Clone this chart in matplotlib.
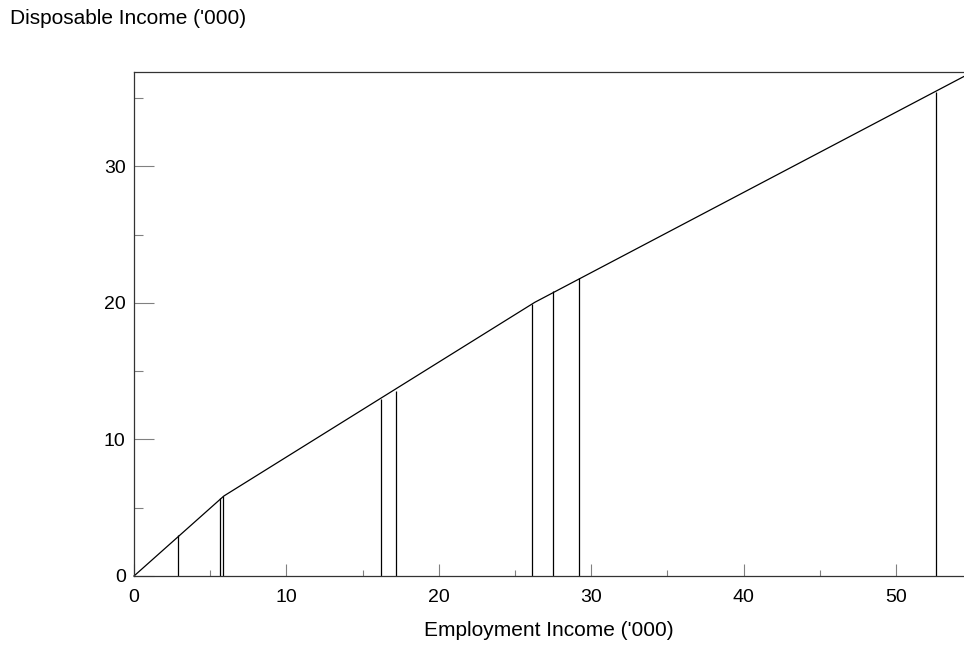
import numpy as np
import matplotlib
matplotlib.use('Agg')
import matplotlib.pyplot as plt
from matplotlib.ticker import MultipleLocator

plt.rcParams['font.family'] = ['Liberation Sans', 'DejaVu Sans']

# budget line: employment income vs disposable income ('000)
curve_x = [0.0, 5.9, 26.3, 54.5]
curve_y = [0.0, 5.86, 20.04, 36.6]

# drop lines for individual observations
drop_x = [2.9, 5.66, 5.83, 16.19, 17.17, 26.1, 27.47, 29.2, 52.6]
drop_y = [3.0, 5.74, 5.88, 12.99, 13.55, 19.9, 20.83, 21.81, 35.43]

fig = plt.figure(figsize=(9.64, 6.68), dpi=100)
ax = fig.add_axes([134/964, 1 - 576/668, 1 - 134/964, (576 - 72)/668])

ax.plot(curve_x, curve_y, color='black', lw=0.9, clip_on=False)
ax.vlines(drop_x, 0, drop_y, color='black', lw=0.9)

ax.set_xlim(0, 54.46)
ax.set_ylim(0, 36.9)

ax.xaxis.set_major_locator(MultipleLocator(10))
ax.xaxis.set_minor_locator(MultipleLocator(5))
ax.yaxis.set_major_locator(MultipleLocator(10))
ax.yaxis.set_minor_locator(MultipleLocator(5))

ax.tick_params(axis='x', which='major', direction='in', length=8.6, width=0.8,
               color='#808080', pad=9, labelsize=14)
ax.tick_params(axis='x', which='minor', direction='in', length=4.3, width=0.8,
               color='#808080')
ax.tick_params(axis='y', which='major', direction='in', length=14.4, width=0.8,
               color='#808080', pad=6, labelsize=14)
ax.tick_params(axis='y', which='minor', direction='in', length=6.8, width=0.8,
               color='#808080')

for side in ['left', 'bottom', 'top']:
    ax.spines[side].set_color('#333333')
    ax.spines[side].set_linewidth(0.9)
ax.spines['right'].set_visible(False)

ax.set_xlabel("Employment Income ('000)", fontsize=15, labelpad=11)
fig.text(10/964, 1 - 19/668, "Disposable Income ('000)", fontsize=15,
         ha='left', va='center')

fig.savefig('out.png', dpi=100)
